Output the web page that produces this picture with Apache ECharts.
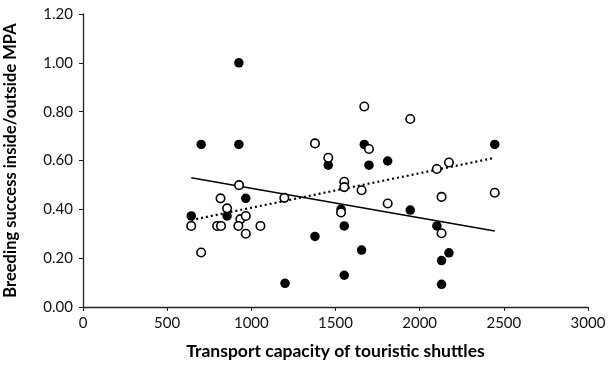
<!DOCTYPE html>
<html>
<head>
<meta charset="utf-8">
<script src="https://cdn.jsdelivr.net/npm/echarts@6/dist/echarts.min.js"></script>
<style>
  html, body { margin: 0; padding: 0; background: #fff; }
  #chart { width: 608px; height: 365px; }
</style>
</head>
<body>
<div id="chart"></div>
<script>
// filled circles
const filledX = [643, 702, 856, 926, 926, 967, 1200, 1378, 1457, 1533, 1552, 1552, 1655, 1671, 1699, 1810, 1944, 2102, 2130, 2130, 2174, 2446]
const filledY = [0.373, 0.666, 0.373, 1.00, 0.666, 0.445, 0.097, 0.289, 0.581, 0.40, 0.332, 0.130, 0.233, 0.666, 0.581, 0.598, 0.397, 0.332, 0.190, 0.093, 0.222, 0.666]

// open circles
const openX = [643, 702, 797, 820, 817, 856, 927, 935, 923, 967, 967, 1054, 1196, 1378, 1457, 1533, 1552, 1552, 1655, 1671, 1699, 1810, 1944, 2102, 2130, 2130, 2174, 2446]
const openY = [0.332, 0.223, 0.332, 0.332, 0.445, 0.404, 0.499, 0.36, 0.332, 0.373, 0.30, 0.332, 0.447, 0.670, 0.611, 0.387, 0.513, 0.491, 0.478, 0.821, 0.647, 0.424, 0.770, 0.565, 0.451, 0.302, 0.592, 0.468]

// trend line end points
const trendX = [643, 2446]
const solidTrendY = [0.529, 0.311]
const dottedTrendY = [0.356, 0.611]

const xTicks = [0, 500, 1000, 1500, 2000, 2500, 3000]
const yTicks = [0, 0.2, 0.4, 0.6, 0.8, 1.0, 1.2]

const pairs = (xs, ys) => xs.map((x, i) => [x, ys[i]])

const chart = echarts.init(document.getElementById('chart'))

const fontFamily = 'Lato, "Liberation Sans", sans-serif'

chart.setOption({
  animation: false,
  grid: {
    left: 83,
    right: 20,
    top: 14,
    bottom: 58,
    outerBoundsMode: 'none'
  },
  xAxis: {
    type: 'value',
    min: xTicks[0],
    max: xTicks[xTicks.length - 1],
    interval: 500,
    name: 'Transport capacity of touristic shuttles',
    nameLocation: 'middle',
    nameGap: 35,
    nameTextStyle: { fontFamily, fontWeight: 'bold', fontSize: 17.5, color: '#000' },
    axisLine: { lineStyle: { color: '#222', width: 1.3 } },
    axisTick: { show: true, length: 4, lineStyle: { color: '#222' } },
    axisLabel: { fontFamily, fontSize: 15, color: '#111', margin: 9, formatter: v => String(v) },
    splitLine: { show: false }
  },
  yAxis: {
    type: 'value',
    min: yTicks[0],
    max: yTicks[yTicks.length - 1],
    interval: 0.2,
    name: 'Breeding success inside/outside MPA',
    nameLocation: 'middle',
    nameGap: 64,
    nameTextStyle: { fontFamily, fontWeight: 'bold', fontSize: 16.5, color: '#000' },
    axisLine: { show: true, lineStyle: { color: '#222', width: 1.3 } },
    axisTick: { show: true, length: 4, lineStyle: { color: '#222' } },
    axisLabel: {
      fontFamily, fontSize: 15, color: '#111', margin: 10,
      formatter: v => v.toFixed(2)
    },
    splitLine: { show: false }
  },
  series: [
    {
      type: 'line',
      data: pairs(trendX, solidTrendY),
      symbol: 'none',
      lineStyle: { color: '#000', width: 1.5 },
      z: 1
    },
    {
      type: 'line',
      data: pairs(trendX, dottedTrendY),
      symbol: 'none',
      lineStyle: { color: '#000', width: 2.2, type: [2, 3] },
      z: 1
    },
    {
      type: 'scatter',
      data: pairs(filledX, filledY),
      symbol: 'circle',
      symbolSize: 9.5,
      itemStyle: { color: '#000', opacity: 1 },
      z: 3
    },
    {
      type: 'scatter',
      data: pairs(openX, openY),
      symbol: 'circle',
      symbolSize: 8.5,
      itemStyle: { color: '#fff', borderColor: '#000', borderWidth: 1.6, opacity: 1 },
      z: 4
    }
  ]
})
</script>
</body>
</html>
